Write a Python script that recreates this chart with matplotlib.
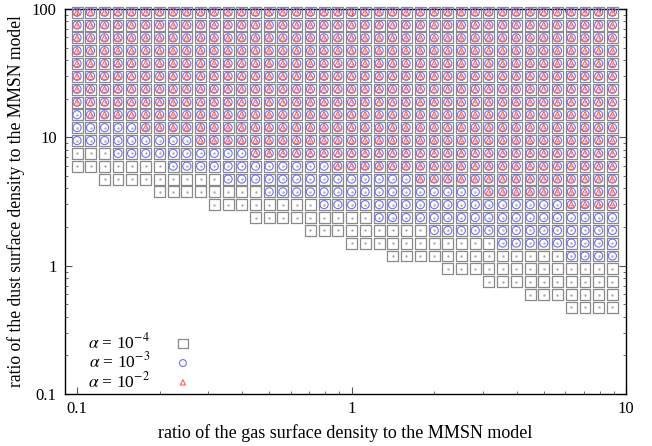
import matplotlib
matplotlib.use("Agg")
import matplotlib.pyplot as plt
from matplotlib.ticker import FixedLocator, NullFormatter

plt.rcParams['font.family'] = ['Liberation Serif', 'DejaVu Serif']
plt.rcParams['mathtext.fontset'] = 'stix'

# gas surface density ratio (one column per value)
gas_ratio = [0.1, 0.112, 0.126, 0.141, 0.158, 0.178, 0.2, 0.224, 0.251, 0.282,
             0.316, 0.355, 0.398, 0.447, 0.501, 0.562, 0.631, 0.708, 0.794, 0.891,
             1.0, 1.12, 1.26, 1.41, 1.58, 1.78, 2.0, 2.24, 2.51, 2.82,
             3.16, 3.55, 3.98, 4.47, 5.01, 5.62, 6.31, 7.08, 7.94, 8.91]
# dust surface density ratio (rows, top to bottom)
dust_ratio = [94.4, 75.0, 59.6, 47.3, 37.6, 29.9, 23.7, 18.8, 15.0, 11.9,
              9.44, 7.50, 5.96, 4.73, 3.76, 2.99, 2.37, 1.88, 1.50, 1.19,
              0.944, 0.750, 0.596, 0.473]
# lowest row index that is filled in each column, per alpha
low_a4 = [12, 12, 13, 13, 13, 13, 14, 14, 14, 14, 15, 15, 15, 16, 16, 16, 16, 17, 17, 17,
          18, 18, 18, 19, 19, 19, 19, 20, 20, 20, 21, 21, 21, 22, 22, 22, 23, 23, 23, 23]
low_a3 = [10, 10, 10, 11, 11, 11, 11, 12, 12, 12, 12, 13, 13, 13, 14, 14, 14, 14, 15, 15,
          15, 15, 16, 16, 16, 16, 17, 17, 17, 17, 17, 18, 18, 18, 18, 18, 19, 19, 19, 19]
low_a2 = [7, 8, 8, 8, 8, 9, 9, 9, 9, 10, 10, 10, 10, 11, 11, 11, 11, 11, 11, 12,
          12, 12, 12, 12, 12, 13, 13, 13, 13, 13, 14, 14, 14, 14, 14, 14, 15, 15, 15, 15]


def points(low):
    xs, ys = [], []
    for x, n in zip(gas_ratio, low):
        for y in dust_ratio[:n + 1]:
            xs.append(x)
            ys.append(y)
    return xs, ys


fig = plt.figure(figsize=(6.52, 4.46), dpi=100)
ax = fig.add_axes([0.0997, 0.1166, 0.8607, 0.8632])

x4, y4 = points(low_a4)
x3, y3 = points(low_a3)
x2, y2 = points(low_a2)

ax.scatter(x4, y4, s=62, marker='s', facecolors='none', edgecolors='#8a8a8a',
           linewidths=0.9, clip_on=False, label=r'$\alpha$ = 10$^{-4}$', zorder=3)
ax.scatter(x4, y4, s=0.6, marker='o', color='#b0b0b0', clip_on=False, zorder=3)
ax.scatter(x3, y3, s=34, marker='o', facecolors='none', edgecolors='#7070ff',
           linewidths=0.8, clip_on=False, label=r'$\alpha$ = 10$^{-3}$', zorder=4)
ax.scatter(x2, y2, s=20, marker='^', facecolors='none', edgecolors='#ff6060',
           linewidths=0.8, clip_on=False, label=r'$\alpha$ = 10$^{-2}$', zorder=5)

ax.set_xscale('log')
ax.set_yscale('log')
ax.set_xlim(0.0904, 10)
ax.set_ylim(0.1, 100)

ax.xaxis.set_major_locator(FixedLocator([0.1, 1, 10]))
ax.set_xticklabels(['0.1', '1', '10'])
ax.yaxis.set_major_locator(FixedLocator([0.1, 1, 10, 100]))
ax.set_yticklabels(['0.1', '1', '10', '100'])
ax.xaxis.set_minor_formatter(NullFormatter())
ax.yaxis.set_minor_formatter(NullFormatter())

ax.tick_params(which='both', direction='in', top=True, right=True, labelsize=12, colors='#555555',
               labelcolor='black')
ax.tick_params(which='major', length=5, width=0.8)
ax.tick_params(which='minor', length=2.5, width=0.6)
ax.tick_params(axis='x', which='major', pad=5)
ax.tick_params(axis='y', which='major', pad=6)
for sp in ax.spines.values():
    sp.set_linewidth(1.0)

ax.set_xlabel('ratio of the gas surface density to the MMSN model', fontsize=13, labelpad=5)
ax.set_ylabel('ratio of the dust surface density to the MMSN model', fontsize=12.7, labelpad=5)

ax.legend(loc='lower left', bbox_to_anchor=(0.041, 0.008), frameon=False, markerfirst=False,
          fontsize=12.5, handletextpad=0.9, labelspacing=-0.04, borderpad=0, borderaxespad=0,
          scatterpoints=1, markerscale=0.85)

fig.savefig('out.png', dpi=100)
